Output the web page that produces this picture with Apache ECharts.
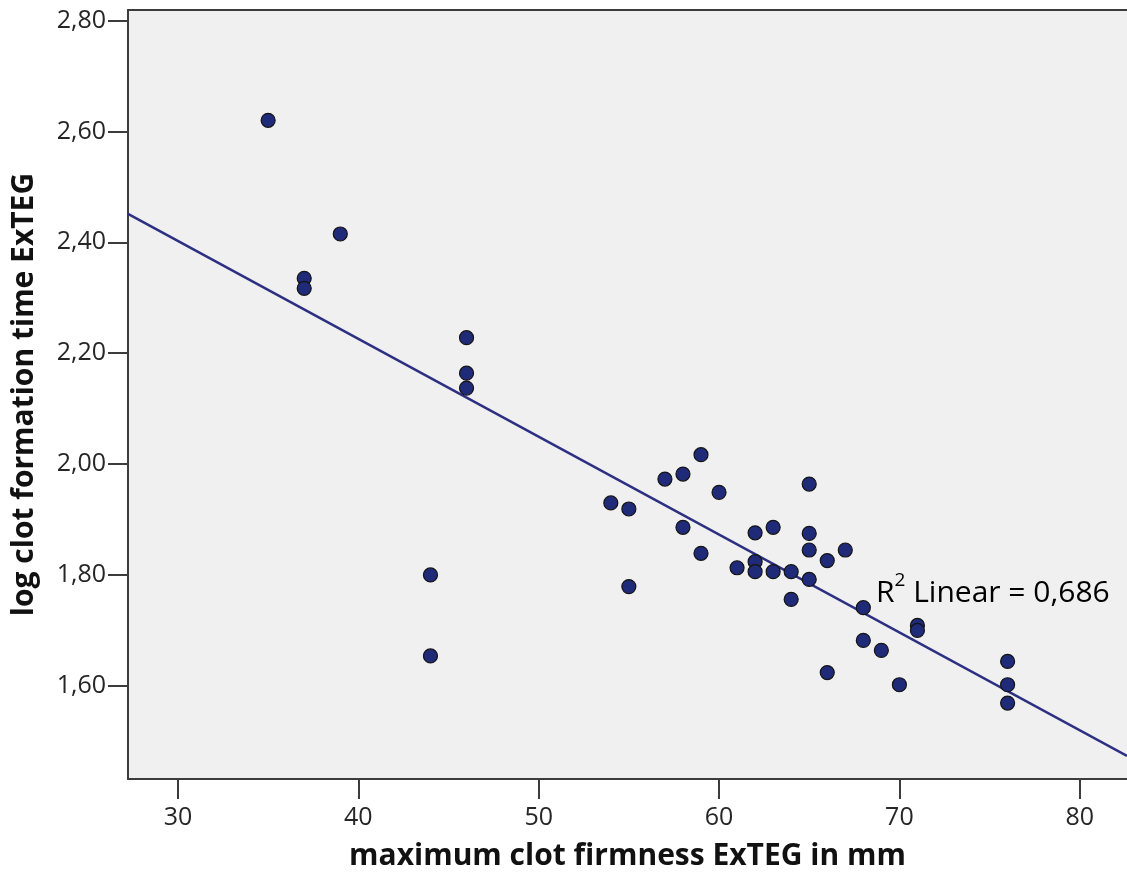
<!DOCTYPE html>
<html>
<head>
<meta charset="utf-8">
<script src="https://cdn.jsdelivr.net/npm/echarts@6/dist/echarts.min.js"></script>
<style>
html, body { margin: 0; padding: 0; background: #fff; }
#chart { width: 1127px; height: 885px; }
</style>
</head>
<body>
<div id="chart"></div>
<script>
// maximum clot firmness (mm) vs log clot formation time
var mcfValues = [35, 37, 37, 39, 44, 44, 46, 46, 46, 54, 55, 55, 57, 58, 58, 59, 59, 60, 61,
    62, 62, 62, 63, 63, 64, 64, 65, 65, 65, 65, 66, 66, 67, 68, 68, 69, 70, 71, 71, 76, 76, 76];
var logCftValues = [2.620, 2.335, 2.317, 2.415, 1.800, 1.654, 2.228, 2.164, 2.137, 1.930, 1.919, 1.779,
    1.973, 1.982, 1.886, 2.017, 1.839, 1.949, 1.813, 1.876, 1.824, 1.806, 1.886, 1.806, 1.806, 1.756,
    1.964, 1.875, 1.845, 1.792, 1.826, 1.624, 1.845, 1.741, 1.682, 1.664, 1.602, 1.709, 1.700,
    1.644, 1.602, 1.569];

var xTicks = [30, 40, 50, 60, 70, 80];
var yTicks = [1.6, 1.8, 2.0, 2.2, 2.4, 2.6, 2.8];

// fitted line (as drawn)
var fitIntercept = 2.932;
var fitSlope = -0.01765;
var rSquared = '0,686';

var xMin = 27.23, xMax = 82.62;
var yMin = 1.432, yMax = 2.819;

var chart = echarts.init(document.getElementById('chart'));

var points = mcfValues.map(function (x, i) { return [x, logCftValues[i]]; });
var fitData = [xMin, xMax].map(function (x) { return [x, fitIntercept + fitSlope * x]; });

var axisColor = '#3c3c3c';
var labelStyle = { fontFamily: 'Open Sans', fontSize: 25, color: '#262626' };
var nameStyle = { fontFamily: 'Open Sans', fontSize: 30, fontWeight: 'bold', color: '#111' };

var option = {
    animation: false,
    backgroundColor: '#fff',
    grid: {
        left: 128, right: 0, top: 10, bottom: 106,
        show: true,
        backgroundColor: '#f0f0f0',
        borderWidth: 0
    },
    xAxis: [{
        type: 'value',
        min: xMin, max: xMax,
        name: 'maximum clot firmness ExTEG in mm',
        nameLocation: 'middle',
        nameGap: 62,
        nameTextStyle: nameStyle,
        axisLine: { lineStyle: { color: axisColor, width: 2 } },
        axisTick: { show: true, length: 20, customValues: xTicks, lineStyle: { color: axisColor, width: 2 } },
        axisLabel: Object.assign({ customValues: xTicks, margin: 26 }, labelStyle),
        splitLine: { show: false }
    }, {
        // top frame line only
        type: 'value',
        position: 'top',
        min: xMin, max: xMax,
        axisLine: { show: true, lineStyle: { color: axisColor, width: 2 } },
        axisTick: { show: false },
        axisLabel: { show: false },
        splitLine: { show: false }
    }],
    yAxis: {
        type: 'value',
        min: yMin, max: yMax,
        name: 'log clot formation time ExTEG',
        nameLocation: 'middle',
        nameRotate: 90,
        nameGap: 89,
        nameTextStyle: nameStyle,
        axisLine: { show: true, lineStyle: { color: axisColor, width: 2 } },
        axisTick: { show: true, length: 20, customValues: yTicks, lineStyle: { color: axisColor, width: 2 } },
        axisLabel: Object.assign({
            customValues: yTicks,
            margin: 22,
            formatter: function (v) { return v.toFixed(2).replace('.', ','); }
        }, labelStyle),
        splitLine: { show: false }
    },
    graphic: [{
        type: 'text',
        left: 876,
        top: 571,
        z: 10,
        style: {
            text: '{a|R}{s|2}{a| Linear = ' + rSquared + '}',
            rich: {
                a: { fontFamily: 'Open Sans', fontSize: 30, color: '#111', lineHeight: 37, verticalAlign: 'bottom' },
                s: { fontFamily: 'Open Sans', fontSize: 19, color: '#111', lineHeight: 19, verticalAlign: 'top' }
            }
        }
    }],
    series: [{
        type: 'line',
        data: fitData,
        symbol: 'none',
        z: 2,
        lineStyle: { color: '#2c2f82', width: 2.5 },
        silent: true
    }, {
        type: 'scatter',
        data: points,
        symbol: 'circle',
        symbolSize: 14,
        z: 3,
        itemStyle: { color: '#1f2a78', borderColor: '#141414', borderWidth: 1.2, opacity: 1 }
    }]
};

chart.setOption(option);
</script>
</body>
</html>
